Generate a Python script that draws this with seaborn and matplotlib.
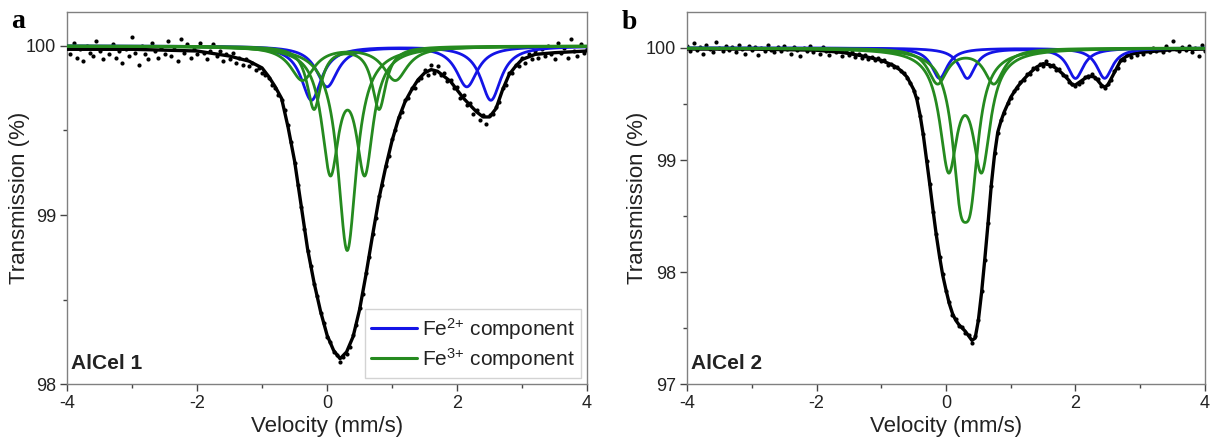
import numpy as np
import matplotlib
matplotlib.use("Agg")
import matplotlib.pyplot as plt
import seaborn as sns
from matplotlib.lines import Line2D

# Measured spectra, one point every 0.05 mm/s from -4 to 4 mm/s
trans_a = [
    99.99, 99.95, 100.02, 99.93, 99.98, 99.91, 100.00, 99.96, 99.94, 100.03,
    99.97, 99.92, 99.99, 99.95, 100.01, 99.93, 99.97, 99.90, 99.98, 99.94,
    100.05, 99.96, 99.89, 100.00, 99.95, 99.92, 100.02, 99.97, 99.93, 99.99,
    99.95, 100.03, 99.94, 99.98, 99.91, 100.04, 99.96, 100.01, 99.93, 99.98,
    99.95, 100.02, 99.96, 99.92, 99.97, 100.01, 99.94, 99.97, 99.91, 99.95,
    99.92, 99.96, 99.90, 99.93, 99.89, 99.92, 99.88, 99.90, 99.86, 99.87,
    99.84, 99.83, 99.81, 99.77, 99.75, 99.71, 99.68, 99.62, 99.53, 99.43,
    99.31, 99.18, 99.05, 98.92, 98.79, 98.70, 98.59, 98.52, 98.42, 98.36,
    98.28, 98.25, 98.19, 98.17, 98.13, 98.16, 98.18, 98.22, 98.29, 98.35,
    98.45, 98.53, 98.66, 98.75, 98.89, 98.98, 99.11, 99.18, 99.29, 99.35,
    99.45, 99.50, 99.58, 99.61, 99.68, 99.69, 99.75, 99.75, 99.80, 99.81,
    99.86, 99.83, 99.89, 99.84, 99.88, 99.83, 99.84, 99.79, 99.80, 99.75,
    99.76, 99.69, 99.71, 99.65, 99.66, 99.60, 99.62, 99.56, 99.59, 99.54,
    99.59, 99.60, 99.64, 99.67, 99.75, 99.77, 99.84, 99.84, 99.89, 99.88,
    99.93, 99.90, 99.95, 99.92, 99.97, 99.93, 99.98, 99.94, 100.00, 99.95,
    99.92, 100.02, 99.96, 99.99, 99.93, 100.04, 99.97, 99.94, 100.01, 99.96,
    99.98,
]
trans_b = [
    100.02, 99.97, 100.04, 99.98, 100.01, 99.95, 100.03, 99.99, 99.96, 100.05,
    100.00, 99.97, 100.02, 99.98, 100.01, 99.96, 100.03, 99.99, 99.95, 100.02,
    99.98, 100.01, 99.94, 100.00, 99.97, 100.03, 99.98, 99.96, 100.01, 99.97,
    100.02, 99.99, 99.95, 100.01, 99.98, 99.93, 100.00, 99.97, 100.02, 99.96,
    99.99, 99.95, 100.01, 99.97, 99.94, 99.99, 99.96, 99.98, 99.93, 99.97,
    99.94, 99.96, 99.92, 99.95, 99.91, 99.94, 99.90, 99.92, 99.89, 99.91,
    99.88, 99.89, 99.85, 99.86, 99.83, 99.83, 99.79, 99.78, 99.73, 99.69,
    99.62, 99.55, 99.39, 99.23, 98.99, 98.79, 98.54, 98.34, 98.13, 97.98,
    97.83, 97.73, 97.62, 97.58, 97.52, 97.51, 97.46, 97.44, 97.37, 97.43,
    97.57, 97.83, 98.11, 98.44, 98.77, 99.06, 99.24, 99.36, 99.42, 99.51,
    99.55, 99.62, 99.64, 99.70, 99.71, 99.77, 99.77, 99.82, 99.81, 99.86,
    99.84, 99.88, 99.84, 99.85, 99.80, 99.81, 99.76, 99.75, 99.70, 99.68,
    99.66, 99.68, 99.70, 99.74, 99.74, 99.77, 99.73, 99.72, 99.66, 99.64,
    99.68, 99.71, 99.79, 99.82, 99.89, 99.89, 99.94, 99.92, 99.96, 99.94,
    99.98, 99.95, 99.99, 99.96, 100.00, 99.97, 99.99, 99.96, 100.02, 99.98,
    100.06, 99.99, 99.97, 100.01, 99.98, 100.02, 99.96, 100.00, 99.93, 100.03,
    99.97,
]

# Total fit curves
fit_a_v = [-4.0, -3.0, -2.0, -1.5, -1.2, -1.0, -0.9, -0.8, -0.7, -0.6, -0.5, -0.4, -0.3, -0.2, -0.1,
           0.0, 0.1, 0.2, 0.3, 0.4, 0.5, 0.6, 0.7, 0.8, 0.9, 1.0, 1.1, 1.2, 1.3, 1.4, 1.5, 1.6, 1.7,
           1.8, 1.9, 2.0, 2.1, 2.2, 2.3, 2.4, 2.5, 2.6, 2.7, 2.8, 2.9, 3.0, 3.2, 3.5, 4.0]
fit_a_T = [99.98, 99.98, 99.97, 99.94, 99.91, 99.87, 99.82, 99.76, 99.69, 99.52, 99.32, 99.06, 98.80,
           98.60, 98.43, 98.29, 98.20, 98.15, 98.19, 98.28, 98.44, 98.65, 98.88, 99.10, 99.28, 99.44,
           99.57, 99.67, 99.74, 99.80, 99.84, 99.86, 99.85, 99.82, 99.79, 99.74, 99.69, 99.65, 99.61,
           99.58, 99.58, 99.63, 99.74, 99.83, 99.88, 99.92, 99.95, 99.96, 99.97]
fit_b_v = [-4.0, -3.0, -2.0, -1.6, -1.3, -1.0, -0.8, -0.7, -0.6, -0.5, -0.45, -0.4, -0.35, -0.3, -0.25,
           -0.2, -0.15, -0.1, -0.05, 0.0, 0.05, 0.1, 0.15, 0.2, 0.25, 0.3, 0.35, 0.4, 0.45, 0.5, 0.55,
           0.6, 0.65, 0.7, 0.75, 0.8, 0.85, 0.9, 1.0, 1.1, 1.2, 1.3, 1.4, 1.5, 1.6, 1.7, 1.8, 1.9, 1.95,
           2.0, 2.1, 2.2, 2.3, 2.4, 2.45, 2.5, 2.6, 2.7, 2.8, 2.9, 3.0, 3.5, 4.0]
fit_b_T = [99.99, 99.99, 99.98, 99.96, 99.93, 99.89, 99.84, 99.80, 99.74, 99.63, 99.54, 99.40, 99.22,
           99.00, 98.78, 98.55, 98.33, 98.14, 97.97, 97.84, 97.72, 97.63, 97.57, 97.53, 97.50, 97.47,
           97.43, 97.39, 97.41, 97.57, 97.82, 98.12, 98.44, 98.78, 99.05, 99.25, 99.35, 99.43, 99.56,
           99.65, 99.72, 99.78, 99.83, 99.86, 99.85, 99.82, 99.77, 99.71, 99.67, 99.67, 99.71, 99.75,
           99.74, 99.67, 99.65, 99.67, 99.78, 99.89, 99.93, 99.95, 99.96, 99.985, 99.99]

# Lorentzian sub-spectra: line positions (mm/s), depth (%), FWHM (mm/s)
fe2_a_lines = [(-0.24, 2.52), (0.00, 2.15)]
fe2_a_depth = [0.32, 0.24]
fe2_a_fwhm = [0.38, 0.40]
fe3_a_lines = [(0.31,), (0.05, 0.58), (-0.20, 0.80), (-0.38, 1.05)]
fe3_a_depth = [1.21, 0.71, 0.37, 0.20]
fe3_a_fwhm = [0.35, 0.32, 0.26, 0.45]

fe2_b_lines = [(-0.10, 2.45), (0.33, 2.00)]
fe2_b_depth = [0.27, 0.27]
fe2_b_fwhm = [0.30, 0.30]
fe3_b_lines = [(0.22, 0.38), (0.04, 0.55), (-0.13, 0.74)]
fe3_b_depth = [1.00, 1.02, 0.31]
fe3_b_fwhm = [0.30, 0.33, 0.36]

BLUE = "#1414e6"
GREEN = "#258a1f"
INK = "#222222"

sns.set_style("ticks")
plt.rcParams["font.family"] = ["Liberation Sans", "DejaVu Sans"]
plt.rcParams["mathtext.default"] = "regular"
plt.rcParams["axes.unicode_minus"] = False
plt.rcParams["text.color"] = INK
plt.rcParams["axes.labelcolor"] = INK
plt.rcParams["xtick.labelcolor"] = INK
plt.rcParams["ytick.labelcolor"] = INK

v_grid = np.linspace(-4, 4, 1601)


def subspectrum(lines, depth, fwhm):
    hw = fwhm / 2.0
    dip = np.zeros_like(v_grid)
    for c in lines:
        dip += depth / (1.0 + ((v_grid - c) / hw) ** 2)
    return 100.0 - dip


def draw_panel(ax, trans, fit_v, fit_T, fe2, fe3, ylim, yticks, yminor, name):
    v_data = np.linspace(-4, 4, len(trans))
    sns.scatterplot(x=v_data, y=trans, ax=ax, color="black", s=9, linewidth=0, zorder=2)
    sns.lineplot(x=fit_v, y=fit_T, ax=ax, color="black", lw=2.4, zorder=3)
    for lines, depth, fwhm in zip(*fe2):
        sns.lineplot(x=v_grid, y=subspectrum(lines, depth, fwhm), ax=ax, color=BLUE, lw=2.0, zorder=4)
    for lines, depth, fwhm in zip(*fe3):
        sns.lineplot(x=v_grid, y=subspectrum(lines, depth, fwhm), ax=ax, color=GREEN, lw=2.0, zorder=5)

    ax.set_xlim(-4, 4)
    ax.set_ylim(*ylim)
    ax.set_xticks([-4, -2, 0, 2, 4])
    ax.set_xticks([-3, -1, 1, 3], minor=True)
    ax.set_yticks(yticks)
    ax.set_yticklabels([str(t) for t in yticks])
    ax.set_yticks(yminor, minor=True)
    ax.tick_params(which="major", direction="out", length=5, width=1, labelsize=13, color="#444444", pad=3)
    ax.tick_params(which="minor", direction="out", length=3, width=1, color="#444444")
    for sp in ax.spines.values():
        sp.set_visible(True)
        sp.set_color("#808080")
        sp.set_linewidth(1.0)
    ax.set_xlabel("Velocity (mm/s)", fontsize=16)
    ax.set_ylabel("Transmission (%)", fontsize=16)
    ax.xaxis.set_label_coords(0.5, -0.085)
    ax.text(0.008, 0.056, name, transform=ax.transAxes, fontsize=15, fontweight="bold",
            ha="left", va="center")


fig = plt.figure(figsize=(12.19, 4.42), dpi=100)
ax_a = fig.add_axes([0.055, 0.131, 0.4266, 0.8416])
ax_b = fig.add_axes([0.5636, 0.131, 0.4249, 0.8416])

draw_panel(ax_a, trans_a, fit_a_v, fit_a_T,
           (fe2_a_lines, fe2_a_depth, fe2_a_fwhm), (fe3_a_lines, fe3_a_depth, fe3_a_fwhm),
           (98, 100.2), [98, 99, 100], [98.5, 99.5], "AlCel 1")
draw_panel(ax_b, trans_b, fit_b_v, fit_b_T,
           (fe2_b_lines, fe2_b_depth, fe2_b_fwhm), (fe3_b_lines, fe3_b_depth, fe3_b_fwhm),
           (97, 100.32), [97, 98, 99, 100], [97.5, 98.5, 99.5], "AlCel 2")
ax_a.yaxis.set_label_coords(-0.072, 0.5)
ax_b.yaxis.set_label_coords(-0.075, 0.5)

handles = [Line2D([0], [0], color=BLUE, lw=2.2), Line2D([0], [0], color=GREEN, lw=2.2)]
leg = ax_a.legend(handles, ["Fe$^{2{+}}$ component", "Fe$^{3{+}}$ component"], loc="lower right",
                  fontsize=15, frameon=True, fancybox=False, edgecolor="#c8c8c8",
                  handlelength=2.2, handletextpad=0.25, borderpad=0.3, labelspacing=0.2,
                  borderaxespad=0.3)
leg.get_frame().set_linewidth(1.0)

fig.text(0.0146, 0.951, "a", fontfamily=["Liberation Serif", "DejaVu Serif"], fontweight="bold",
         fontsize=20, ha="center", va="center", color="black")
fig.text(0.516, 0.948, "b", fontfamily=["Liberation Serif", "DejaVu Serif"], fontweight="bold",
         fontsize=20, ha="center", va="center", color="black")

fig.savefig("out.png", dpi=100)
